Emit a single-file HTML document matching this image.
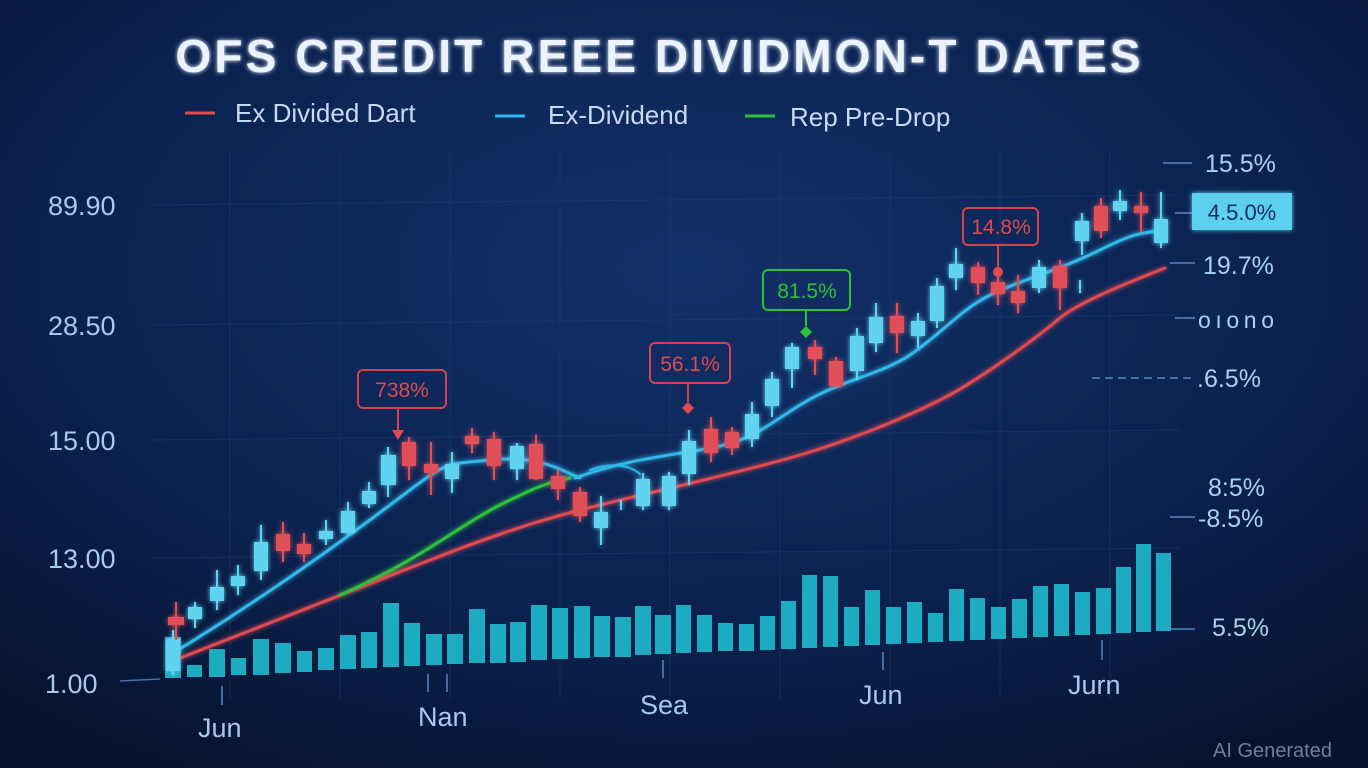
<!DOCTYPE html>
<html><head><meta charset="utf-8"><style>
html,body{margin:0;padding:0;width:1368px;height:768px;overflow:hidden;background:#071633}
svg{display:block}
text{font-family:"Liberation Sans",sans-serif}
</style></head><body>
<svg width="1368" height="768" viewBox="0 0 1368 768" xmlns="http://www.w3.org/2000/svg">
<defs>
<radialGradient id="bg" cx="0.5" cy="0.35" r="0.75">
<stop offset="0" stop-color="#123068"/><stop offset="0.6" stop-color="#0b2250"/><stop offset="1" stop-color="#06132e"/>
</radialGradient>
<filter id="glow" x="-20%" y="-20%" width="140%" height="140%"><feGaussianBlur stdDeviation="2.5" result="b"/><feMerge><feMergeNode in="b"/><feMergeNode in="SourceGraphic"/></feMerge></filter>
</defs>
<rect width="1368" height="768" fill="url(#bg)"/>
<g stroke="#2a4a80" stroke-width="1" opacity="0.35">
<line x1="230" y1="150" x2="230" y2="700"/><line x1="340" y1="150" x2="340" y2="700"/><line x1="450" y1="150" x2="450" y2="700"/><line x1="560" y1="150" x2="560" y2="700"/><line x1="670" y1="150" x2="670" y2="700"/><line x1="780" y1="150" x2="780" y2="700"/><line x1="890" y1="150" x2="890" y2="700"/><line x1="1000" y1="150" x2="1000" y2="700"/><line x1="1110" y1="150" x2="1110" y2="700"/>
<line x1="150" y1="205" x2="1180" y2="195"/><line x1="150" y1="325" x2="1180" y2="315"/><line x1="150" y1="440" x2="1180" y2="430"/><line x1="150" y1="558" x2="1180" y2="548"/>
</g>
<text x="658" y="72" text-anchor="middle" font-size="46" font-weight="bold" fill="#eaf3ff" filter="url(#glow)" textLength="965">OFS CREDIT REEE DIVIDMON-T DATES</text>
<g font-size="26" fill="#c9d9f2">
<line x1="185" y1="113" x2="215" y2="113" stroke="#e04a50" stroke-width="3"/><text x="235" y="122">Ex Divided Dart</text>
<line x1="495" y1="116" x2="525" y2="116" stroke="#33b8e8" stroke-width="3"/><text x="548" y="124">Ex-Dividend</text>
<line x1="745" y1="116" x2="775" y2="116" stroke="#2fc03a" stroke-width="3"/><text x="790" y="126">Rep Pre-Drop</text>
</g>
<g font-size="27" fill="#a9c8ee">
<text x="48" y="215">89.90</text><text x="48" y="335">28.50</text><text x="48" y="450">15.00</text><text x="48" y="568">13.00</text><text x="45" y="693">1.00</text>
</g>
<line x1="120" y1="681" x2="160" y2="679" stroke="#4a6ea8" stroke-width="1.5"/>
<g fill="#1fb3c8" opacity="0.95">
<rect x="165" y="637" width="16" height="41"/><rect x="187" y="665" width="15" height="12"/><rect x="209" y="649" width="16" height="28"/><rect x="231" y="658" width="15" height="17"/><rect x="253" y="639" width="16" height="36"/><rect x="275" y="643" width="16" height="30"/><rect x="297" y="651" width="15" height="21"/><rect x="318" y="648" width="16" height="22"/><rect x="340" y="635" width="16" height="34"/><rect x="361" y="632" width="16" height="36"/><rect x="383" y="603" width="16" height="64"/><rect x="404" y="623" width="16" height="43"/><rect x="426" y="634" width="16" height="31"/><rect x="447" y="634" width="16" height="30"/><rect x="469" y="609" width="16" height="54"/><rect x="490" y="624" width="16" height="39"/><rect x="510" y="622" width="16" height="40"/><rect x="531" y="605" width="16" height="55"/><rect x="552" y="608" width="16" height="51"/><rect x="574" y="606" width="16" height="52"/><rect x="594" y="616" width="16" height="41"/><rect x="615" y="617" width="16" height="40"/><rect x="635" y="606" width="16" height="49"/><rect x="655" y="615" width="16" height="39"/>
<rect x="676" y="605" width="15" height="48"/><rect x="697" y="615" width="15" height="37"/><rect x="718" y="623" width="15" height="28"/><rect x="739" y="624" width="15" height="27"/><rect x="760" y="616" width="15" height="34"/><rect x="781" y="601" width="15" height="48"/><rect x="802" y="575" width="15" height="73"/><rect x="823" y="576" width="15" height="71"/><rect x="844" y="607" width="15" height="39"/><rect x="865" y="590" width="15" height="55"/><rect x="886" y="607" width="15" height="37"/><rect x="907" y="602" width="15" height="41"/><rect x="928" y="613" width="15" height="29"/><rect x="949" y="589" width="15" height="52"/><rect x="970" y="598" width="15" height="42"/><rect x="991" y="607" width="15" height="32"/><rect x="1012" y="599" width="15" height="39"/><rect x="1033" y="586" width="15" height="51"/><rect x="1054" y="584" width="15" height="52"/><rect x="1075" y="592" width="15" height="43"/><rect x="1096" y="588" width="15" height="46"/><rect x="1116" y="567" width="15" height="66"/><rect x="1136" y="544" width="15" height="88"/><rect x="1156" y="553" width="15" height="78"/>
</g>
<g fill="none" stroke-width="3" stroke-linecap="round" filter="url(#glow)">
<path d="M170,662 C250,630 340,595 430,560 S560,515 600,505 S750,470 800,455 S900,420 940,400 S1040,335 1060,318 S1140,278 1165,268" stroke="#e04a50"/>
<path d="M340,595 C420,560 460,525 500,505 S550,482 570,478" stroke="#2fc03a"/>
<path d="M170,655 C260,600 330,550 390,505 S440,465 490,460 S560,470 580,478" stroke="#33b8e8"/>
<path d="M575,478 C620,462 650,458 700,450 S760,430 800,405 S880,375 910,355 S960,310 990,295 S1060,270 1100,250 S1140,235 1160,230" stroke="#33b8e8"/>
<path d="M590,470 C610,462 630,465 640,474" stroke="#33b8e8" stroke-width="2"/>
</g>
<g filter="url(#glow)">
<g stroke="#5fd3f0" fill="#5fd3f0" stroke-width="2">
<line x1="195" y1="602" x2="195" y2="628"/><rect x="189" y="608" width="12" height="10"/>
<line x1="217" y1="570" x2="217" y2="610"/><rect x="211" y="588" width="12" height="12"/>
<line x1="238" y1="565" x2="238" y2="595"/><rect x="232" y="577" width="12" height="8"/>
<line x1="261" y1="525" x2="261" y2="580"/><rect x="255" y="543" width="12" height="27"/>
<line x1="326" y1="520" x2="326" y2="545"/><rect x="320" y="532" width="12" height="6"/>
<line x1="348" y1="502" x2="348" y2="535"/><rect x="342" y="512" width="12" height="20"/>
<line x1="369" y1="482" x2="369" y2="508"/><rect x="363" y="492" width="12" height="11"/>
<line x1="388" y1="447" x2="388" y2="497"/><rect x="382" y="456" width="13" height="28"/>
<line x1="452" y1="452" x2="452" y2="493"/><rect x="446" y="465" width="12" height="13"/>
<line x1="517" y1="443" x2="517" y2="480"/><rect x="511" y="447" width="12" height="21"/>
<line x1="601" y1="496" x2="601" y2="545"/><rect x="595" y="513" width="12" height="14"/>
<line x1="621" y1="500" x2="621" y2="510"/>
<line x1="643" y1="473" x2="643" y2="510"/><rect x="637" y="480" width="12" height="25"/>
<line x1="669" y1="472" x2="669" y2="510"/><rect x="663" y="477" width="12" height="28"/>
<line x1="689" y1="430" x2="689" y2="485"/><rect x="683" y="442" width="12" height="31"/>
<line x1="752" y1="402" x2="752" y2="447"/><rect x="746" y="415" width="12" height="23"/>
<line x1="772" y1="372" x2="772" y2="417"/><rect x="766" y="380" width="12" height="25"/>
<line x1="792" y1="343" x2="792" y2="388"/><rect x="786" y="348" width="12" height="20"/>
<line x1="857" y1="328" x2="857" y2="380"/><rect x="851" y="337" width="12" height="33"/>
<line x1="876" y1="303" x2="876" y2="352"/><rect x="870" y="318" width="12" height="24"/>
<line x1="918" y1="313" x2="918" y2="348"/><rect x="912" y="322" width="12" height="13"/>
<line x1="937" y1="278" x2="937" y2="328"/><rect x="931" y="287" width="12" height="33"/>
<line x1="956" y1="248" x2="956" y2="290"/><rect x="950" y="265" width="12" height="12"/>
<line x1="1039" y1="260" x2="1039" y2="293"/><rect x="1033" y="268" width="12" height="19"/>
<line x1="1080" y1="280" x2="1080" y2="293"/>
<line x1="1082" y1="213" x2="1082" y2="255"/><rect x="1076" y="222" width="12" height="18"/>
<line x1="1120" y1="190" x2="1120" y2="220"/><rect x="1114" y="202" width="12" height="8"/>
<line x1="1161" y1="192" x2="1161" y2="248"/><rect x="1155" y="220" width="12" height="22"/>
<line x1="173" y1="630" x2="173" y2="675"/><rect x="167" y="640" width="12" height="30"/>
</g>
<g stroke="#e05058" fill="#e05058" stroke-width="2">
<line x1="176" y1="602" x2="176" y2="640"/><rect x="169" y="618" width="14" height="6"/>
<line x1="283" y1="522" x2="283" y2="562"/><rect x="277" y="535" width="12" height="15"/>
<line x1="304" y1="533" x2="304" y2="562"/><rect x="298" y="545" width="12" height="8"/>
<line x1="409" y1="437" x2="409" y2="480"/><rect x="403" y="443" width="12" height="22"/>
<line x1="431" y1="442" x2="431" y2="495"/><rect x="425" y="465" width="12" height="7"/>
<line x1="472" y1="428" x2="472" y2="453"/><rect x="466" y="437" width="12" height="6"/>
<line x1="494" y1="432" x2="494" y2="480"/><rect x="488" y="440" width="12" height="25"/>
<line x1="536" y1="435" x2="536" y2="480"/><rect x="530" y="445" width="12" height="33"/>
<line x1="558" y1="470" x2="558" y2="500"/><rect x="552" y="477" width="12" height="11"/>
<line x1="580" y1="487" x2="580" y2="522"/><rect x="574" y="493" width="12" height="22"/>
<line x1="711" y1="417" x2="711" y2="462"/><rect x="705" y="430" width="12" height="22"/>
<line x1="732" y1="427" x2="732" y2="455"/><rect x="726" y="433" width="12" height="14"/>
<line x1="815" y1="340" x2="815" y2="375"/><rect x="809" y="348" width="12" height="10"/>
<line x1="836" y1="357" x2="836" y2="387"/><rect x="830" y="362" width="12" height="23"/>
<line x1="897" y1="303" x2="897" y2="353"/><rect x="891" y="317" width="12" height="15"/>
<line x1="978" y1="262" x2="978" y2="295"/><rect x="972" y="268" width="12" height="14"/>
<line x1="998" y1="270" x2="998" y2="305"/><rect x="992" y="283" width="12" height="10"/>
<line x1="1018" y1="275" x2="1018" y2="313"/><rect x="1012" y="292" width="12" height="10"/>
<line x1="1060" y1="260" x2="1060" y2="310"/><rect x="1054" y="267" width="12" height="20"/>
<line x1="1101" y1="198" x2="1101" y2="238"/><rect x="1095" y="207" width="12" height="23"/>
<line x1="1141" y1="192" x2="1141" y2="232"/><rect x="1135" y="207" width="12" height="5"/>
</g>
</g>
<g font-size="21" fill="none" stroke-width="2">
<rect x="358" y="370" width="88" height="38" rx="5" stroke="#d8414a"/><line x1="398" y1="408" x2="398" y2="432" stroke="#d8414a"/><path d="M392,430 L404,430 L398,440 Z" fill="#e04a50" stroke="none"/>
<text x="402" y="397" text-anchor="middle" fill="#e04a50" stroke="none">738%</text>
<rect x="650" y="343" width="80" height="40" rx="5" stroke="#d8414a"/><line x1="688" y1="383" x2="688" y2="402" stroke="#d8414a"/><path d="M688,402 L694,408 L688,414 L682,408 Z" fill="#e04a50" stroke="none"/>
<text x="690" y="371" text-anchor="middle" fill="#e04a50" stroke="none">56.1%</text>
<rect x="763" y="270" width="87" height="40" rx="5" stroke="#2fc03a"/><line x1="806" y1="310" x2="806" y2="326" stroke="#2fc03a"/><path d="M806,326 L812,332 L806,338 L800,332 Z" fill="#2fc03a" stroke="none"/>
<text x="807" y="298" text-anchor="middle" fill="#2fc03a" stroke="none">81.5%</text>
<rect x="963" y="208" width="75" height="37" rx="5" stroke="#d8414a"/><line x1="998" y1="245" x2="998" y2="268" stroke="#d8414a"/><circle cx="998" cy="272" r="5" fill="#e04a50" stroke="none"/>
<text x="1001" y="234" text-anchor="middle" fill="#e04a50" stroke="none">14.8%</text>
</g>
<g stroke="#5a86c0" stroke-width="1.5">
<line x1="1163" y1="163" x2="1192" y2="163"/><line x1="1175" y1="213" x2="1192" y2="213"/><line x1="1170" y1="263" x2="1195" y2="263"/><line x1="1175" y1="318" x2="1195" y2="318"/>
<line x1="1092" y1="378" x2="1195" y2="378" stroke-dasharray="8,5"/><line x1="1170" y1="517" x2="1195" y2="517"/><line x1="1170" y1="629" x2="1195" y2="629"/>
</g>
<rect x="1192" y="193" width="100" height="37" fill="#5dd0f0" filter="url(#glow)"/>
<text x="1242" y="220" text-anchor="middle" font-size="22" fill="#0d2f5a">4.5.0%</text>
<g font-size="25" fill="#a9d2f0">
<text x="1205" y="172">15.5%</text><text x="1203" y="274">19.7%</text><text x="1198" y="328" font-size="23" textLength="76">oıono</text><text x="1197" y="387">.6.5%</text><text x="1208" y="496">8:5%</text><text x="1198" y="527">-8.5%</text><text x="1212" y="636">5.5%</text>
</g>
<g stroke="#5a86c0" stroke-width="1.5">
<line x1="222" y1="686" x2="222" y2="705"/><line x1="428" y1="674" x2="428" y2="692"/><line x1="447" y1="674" x2="447" y2="692"/><line x1="663" y1="660" x2="663" y2="678"/><line x1="883" y1="652" x2="883" y2="670"/><line x1="1102" y1="640" x2="1102" y2="660"/>
</g>
<g font-size="27" fill="#a9c8ee">
<text x="198" y="737">Jun</text><text x="418" y="726">Nan</text><text x="640" y="714">Sea</text><text x="859" y="704">Jun</text><text x="1068" y="694">Jurn</text>
</g>
<text x="1213" y="757" font-size="20" fill="#6d7f99">AI Generated</text>
</svg>
</body></html>
